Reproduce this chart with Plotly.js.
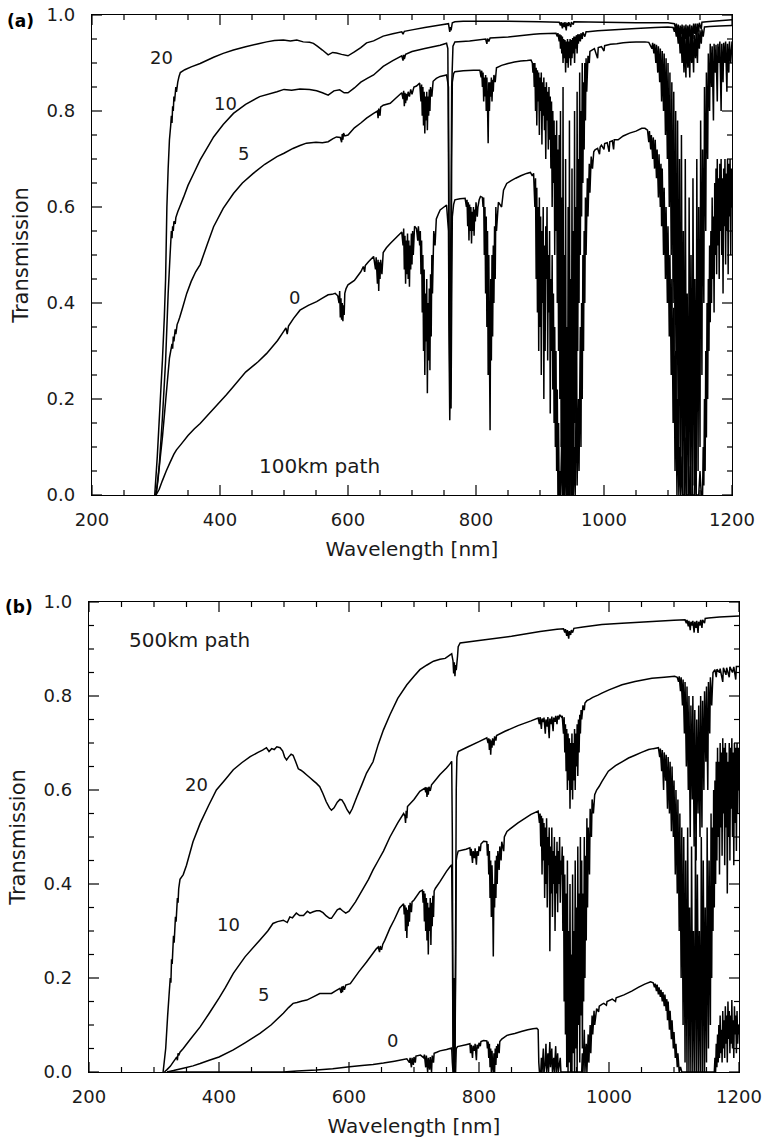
<!DOCTYPE html>
<html>
<head>
<meta charset="utf-8">
<script src="https://cdn.plot.ly/plotly-3.0.1.min.js"></script>
<style>html,body{margin:0;padding:0;background:#fff;}#chart{width:768px;height:1139px;}</style>
</head>
<body>
<div id="chart"></div>
<script>
// ---- Data: [wavelength nm, transmission] pairs ----
// Panel (a): 100 km path, tangent heights 0, 5, 10, 20 km
const a_0km = [300,0, 305,0.012, 310,0.03, 316,0.05, 322,0.068, 328,0.085, 332,0.094, 340,0.107, 350,0.124, 360,0.138, 369,0.149, 380,0.165, 395,0.187, 410,0.209, 421,0.226, 440,0.256, 460,0.278, 473,0.295, 490,0.322, 500,0.342, 503,0.348, 505,0.335, 507,0.352, 515,0.368, 525,0.385, 538,0.395, 551,0.403, 560,0.41, 569,0.417, 575,0.418, 580,0.42, 584,0.415, 586,0.40, 587,0.425, 588,0.37, 589,0.41, 590,0.365, 591,0.40, 592,0.362, 593,0.395, 594,0.375, 595,0.42, 597,0.43, 600,0.438, 610,0.447, 620,0.465, 624,0.476, 626,0.465, 627,0.478, 632,0.486, 640,0.497, 643,0.47, 644,0.495, 646,0.44, 647,0.49, 648,0.425, 649,0.485, 650,0.45, 651,0.49, 653,0.46, 655,0.505, 660,0.515, 666,0.524, 675,0.536, 684,0.548, 686,0.52, 687,0.555, 688,0.47, 689,0.54, 690,0.44, 691,0.53, 692,0.46, 693,0.545, 694,0.45, 695,0.53, 696,0.434, 697,0.52, 698,0.47, 699,0.545, 700,0.48, 701,0.55, 702,0.5, 704,0.56, 707,0.555, 709,0.53, 710,0.56, 712,0.52, 713,0.55, 714,0.46, 715,0.53, 716,0.38, 717,0.5, 718,0.3, 719,0.47, 720,0.25, 721,0.42, 722,0.32, 723,0.45, 724,0.212, 725,0.4, 726,0.28, 727,0.43, 728,0.26, 729,0.46, 730,0.33, 731,0.5, 732,0.42, 734,0.55, 736,0.52, 738,0.575, 741,0.585, 744,0.594, 750,0.6, 754,0.604, 757,0.55, 758,0.3, 759,0.156, 760,0.25, 761,0.18, 762,0.4, 763,0.58, 765,0.605, 767,0.615, 775,0.617, 783,0.618, 785,0.6, 786,0.615, 787,0.56, 788,0.61, 789,0.53, 790,0.605, 791,0.55, 792,0.6, 793,0.524, 794,0.59, 795,0.55, 796,0.6, 797,0.54, 798,0.595, 799,0.57, 800,0.61, 802,0.58, 803,0.6, 805,0.615, 807,0.622, 810,0.62, 811,0.6, 812,0.62, 813,0.5, 814,0.6, 815,0.42, 816,0.58, 817,0.35, 818,0.55, 819,0.25, 820,0.5, 821,0.3, 822,0.135, 823,0.45, 824,0.28, 825,0.5, 826,0.33, 827,0.52, 828,0.4, 829,0.56, 830,0.45, 831,0.6, 832,0.55, 835,0.61, 840,0.6, 843,0.635, 848,0.649, 855,0.655, 862,0.66, 870,0.665, 879,0.67, 885,0.672, 888,0.665, 890,0.67, 892,0.6, 893,0.66, 894,0.45, 895,0.64, 896,0.38, 897,0.6, 898,0.3, 899,0.62, 900,0.35, 901,0.58, 902,0.25, 903,0.55, 904,0.4, 905,0.6, 906,0.2, 907,0.52, 908,0.3, 909,0.56, 910,0.45, 911,0.6, 912,0.28, 913,0.5, 914,0.38, 915,0.55, 916,0.17, 917,0.45, 918,0.3, 919,0.5, 920,0.22, 921,0.42, 922,0.15, 923,0.35, 924,0.1, 925,0.3, 926,0.05, 927,0.22, 928,0, 929,0.15, 930,0, 931,0.05, 932,0, 934,0.12, 935,0, 937,0.3, 938,0, 940,0.08, 941,0, 943,0.2, 944,0, 946,0, 948,0.15, 949,0, 951,0.25, 952,0, 954,0.1, 955,0, 957,0.3, 958,0.02, 960,0.2, 961,0.05, 963,0.35, 964,0.1, 965,0.4, 966,0.2, 967,0.5, 968,0.3, 969,0.55, 970,0.4, 971,0.62, 972,0.5, 974,0.66, 975,0.58, 977,0.69, 978,0.63, 980,0.705, 982,0.68, 984,0.715, 986,0.719, 990,0.722, 993,0.71, 994,0.725, 996,0.729, 1000,0.72, 1001,0.732, 1005,0.734, 1008,0.715, 1009,0.736, 1013,0.738, 1015,0.72, 1016,0.74, 1022,0.74, 1030,0.748, 1040,0.754, 1050,0.758, 1059,0.764, 1064,0.764, 1068,0.76, 1070,0.735, 1071,0.758, 1073,0.72, 1074,0.75, 1076,0.7, 1077,0.745, 1079,0.68, 1080,0.74, 1082,0.66, 1083,0.72, 1085,0.62, 1086,0.71, 1088,0.6, 1089,0.69, 1090,0.56, 1091,0.68, 1093,0.5, 1094,0.64, 1096,0.45, 1097,0.6, 1099,0.4, 1100,0.56, 1102,0.33, 1103,0.5, 1105,0.25, 1106,0.45, 1108,0.15, 1109,0.39, 1111,0.05, 1112,0.3, 1114,0, 1115,0.2, 1117,0, 1118,0.1, 1120,0, 1122,0.08, 1123,0, 1126,0, 1128,0.12, 1129,0, 1133,0, 1135,0.06, 1136,0, 1141,0, 1143,0.1, 1144,0, 1148,0, 1150,0.05, 1152,0, 1154,0, 1155,0.1, 1156,0.02, 1157,0.2, 1158,0.05, 1159,0.3, 1160,0.12, 1161,0.4, 1162,0.2, 1163,0.45, 1164,0.3, 1165,0.52, 1166,0.36, 1167,0.55, 1168,0.4, 1169,0.62, 1170,0.45, 1171,0.58, 1172,0.38, 1173,0.65, 1174,0.5, 1175,0.68, 1176,0.46, 1177,0.7, 1178,0.52, 1179,0.66, 1180,0.45, 1181,0.69, 1182,0.55, 1183,0.7, 1184,0.5, 1185,0.66, 1186,0.42, 1187,0.68, 1188,0.56, 1189,0.7, 1190,0.48, 1191,0.67, 1192,0.55, 1193,0.7, 1194,0.46, 1195,0.69, 1196,0.58, 1197,0.7, 1198,0.5, 1199,0.68, 1200,0.6];

const a_5km = [300,0, 303,0.03, 306,0.07, 310,0.12, 314,0.18, 318,0.24, 321,0.285, 323,0.3, 325,0.315, 326,0.305, 327,0.33, 328,0.32, 330,0.345, 331,0.335, 333,0.355, 335,0.362, 337,0.37, 342,0.392, 348,0.42, 355,0.445, 362,0.465, 369,0.48, 380,0.522, 390,0.559, 405,0.597, 421,0.628, 435,0.65, 452,0.67, 470,0.689, 489,0.705, 500,0.712, 514,0.722, 525,0.728, 535,0.733, 550,0.735, 560,0.734, 569,0.736, 576,0.742, 582,0.746, 588,0.745, 590,0.735, 591,0.752, 592,0.74, 593,0.754, 595,0.748, 600,0.75, 610,0.765, 620,0.775, 629,0.785, 640,0.795, 646,0.8, 647,0.785, 648,0.805, 650,0.79, 651,0.808, 655,0.812, 666,0.816, 675,0.827, 684,0.838, 686,0.825, 687,0.842, 688,0.81, 689,0.838, 690,0.816, 691,0.836, 692,0.822, 694,0.84, 696,0.83, 698,0.845, 700,0.835, 703,0.85, 707,0.852, 712,0.858, 714,0.82, 715,0.855, 716,0.79, 717,0.85, 718,0.77, 719,0.84, 720,0.753, 721,0.83, 722,0.78, 723,0.84, 724,0.76, 725,0.83, 726,0.79, 727,0.845, 728,0.8, 729,0.85, 731,0.83, 733,0.862, 738,0.868, 744,0.872, 754,0.875, 757,0.85, 758,0.5, 759,0.25, 760,0.2, 761,0.35, 762,0.7, 763,0.86, 765,0.878, 767,0.882, 780,0.884, 796,0.885, 806,0.885, 808,0.87, 809,0.884, 810,0.85, 811,0.88, 812,0.82, 813,0.87, 814,0.83, 815,0.875, 816,0.8, 817,0.87, 818,0.81, 819,0.733, 820,0.86, 821,0.8, 822,0.86, 823,0.83, 824,0.87, 825,0.82, 826,0.865, 827,0.84, 828,0.875, 830,0.86, 832,0.89, 840,0.895, 850,0.899, 860,0.902, 870,0.904, 880,0.905, 886,0.906, 888,0.9, 889,0.88, 890,0.9, 891,0.85, 892,0.9, 893,0.8, 894,0.89, 895,0.77, 896,0.885, 897,0.82, 898,0.88, 899,0.75, 900,0.87, 901,0.8, 902,0.88, 903,0.73, 904,0.86, 905,0.79, 906,0.87, 907,0.76, 908,0.85, 909,0.7, 910,0.86, 911,0.78, 912,0.84, 913,0.72, 914,0.85, 915,0.74, 916,0.83, 917,0.68, 918,0.82, 919,0.6, 920,0.8, 921,0.65, 922,0.78, 923,0.5, 924,0.75, 925,0.55, 926,0.78, 927,0.4, 928,0.72, 929,0.3, 930,0.75, 931,0.2, 932,0.8, 933,0.1, 934,0.62, 935,0.02, 936,0.85, 937,0, 938,0.5, 939,0.05, 940,0.7, 941,0, 942,0.35, 943,0, 944,0.6, 945,0.02, 946,0.78, 947,0, 948,0.45, 949,0.05, 950,0.68, 951,0, 952,0.55, 953,0.08, 954,0.8, 955,0.15, 956,0.6, 957,0.2, 958,0.84, 959,0.3, 960,0.7, 961,0.4, 962,0.88, 963,0.5, 964,0.8, 965,0.58, 966,0.9, 967,0.65, 968,0.86, 969,0.72, 970,0.9, 971,0.78, 972,0.91, 973,0.84, 975,0.915, 977,0.9, 978,0.924, 985,0.93, 990,0.91, 991,0.932, 996,0.934, 1000,0.925, 1001,0.936, 1010,0.939, 1020,0.94, 1030,0.942, 1040,0.943, 1050,0.944, 1064,0.944, 1070,0.943, 1075,0.93, 1076,0.942, 1078,0.92, 1079,0.94, 1081,0.9, 1082,0.938, 1084,0.88, 1085,0.935, 1087,0.86, 1088,0.93, 1090,0.82, 1091,0.925, 1093,0.8, 1094,0.92, 1096,0.75, 1097,0.91, 1099,0.7, 1100,0.9, 1102,0.6, 1103,0.88, 1105,0.5, 1106,0.86, 1108,0.4, 1109,0.84, 1111,0.3, 1112,0.8, 1114,0.2, 1115,0.78, 1117,0.1, 1118,0.7, 1120,0.02, 1121,0.75, 1123,0, 1124,0.55, 1126,0, 1127,0.7, 1129,0, 1130,0.42, 1132,0, 1133,0.62, 1135,0, 1136,0.5, 1138,0, 1139,0.66, 1141,0.02, 1142,0.45, 1144,0, 1145,0.7, 1147,0.05, 1148,0.6, 1150,0.1, 1151,0.78, 1153,0.25, 1154,0.72, 1156,0.4, 1157,0.85, 1159,0.55, 1160,0.88, 1162,0.7, 1163,0.92, 1165,0.8, 1166,0.94, 1168,0.85, 1169,0.935, 1171,0.78, 1172,0.94, 1174,0.88, 1175,0.938, 1177,0.82, 1178,0.94, 1180,0.9, 1181,0.945, 1183,0.8, 1184,0.94, 1186,0.86, 1187,0.942, 1189,0.9, 1190,0.945, 1192,0.84, 1193,0.94, 1195,0.88, 1196,0.945, 1198,0.9, 1200,0.945];

const a_10km = [300,0, 305,0.06, 310,0.16, 315,0.28, 319,0.42, 322,0.5, 324,0.55, 325,0.535, 326,0.56, 327,0.55, 328,0.57, 330,0.565, 331,0.578, 334,0.59, 337,0.6, 343,0.62, 350,0.645, 360,0.673, 369,0.698, 380,0.723, 390,0.746, 405,0.772, 421,0.795, 440,0.814, 462,0.83, 489,0.84, 500,0.845, 512,0.843, 525,0.846, 540,0.845, 551,0.842, 560,0.838, 569,0.833, 578,0.842, 587,0.844, 594,0.838, 600,0.838, 610,0.848, 620,0.86, 630,0.868, 640,0.875, 655,0.893, 670,0.905, 684,0.915, 686,0.905, 687,0.917, 688,0.908, 690,0.918, 700,0.924, 720,0.93, 744,0.937, 754,0.941, 756,0.93, 757,0.7, 758,0.4, 759,0.3, 760,0.45, 761,0.6, 762,0.85, 764,0.935, 767,0.944, 790,0.946, 815,0.95, 817,0.94, 818,0.951, 820,0.945, 822,0.952, 850,0.954, 890,0.96, 900,0.961, 925,0.962, 927,0.955, 928,0.962, 930,0.945, 931,0.96, 932,0.93, 933,0.958, 934,0.92, 935,0.955, 936,0.9, 937,0.95, 938,0.91, 939,0.948, 940,0.88, 941,0.945, 942,0.9, 943,0.95, 944,0.89, 945,0.945, 946,0.91, 947,0.95, 948,0.895, 949,0.948, 950,0.91, 951,0.952, 952,0.92, 953,0.955, 954,0.9, 955,0.955, 956,0.93, 957,0.958, 958,0.92, 959,0.96, 960,0.94, 961,0.96, 963,0.945, 964,0.962, 966,0.95, 967,0.964, 970,0.955, 972,0.965, 975,0.965, 990,0.967, 1010,0.969, 1050,0.972, 1080,0.974, 1100,0.975, 1108,0.974, 1110,0.965, 1111,0.975, 1113,0.955, 1114,0.972, 1116,0.94, 1117,0.97, 1119,0.92, 1120,0.968, 1122,0.9, 1123,0.965, 1125,0.88, 1126,0.96, 1128,0.87, 1129,0.958, 1131,0.89, 1132,0.96, 1134,0.87, 1135,0.955, 1137,0.9, 1138,0.96, 1140,0.88, 1141,0.958, 1143,0.91, 1144,0.962, 1146,0.9, 1147,0.965, 1149,0.93, 1150,0.968, 1152,0.94, 1153,0.97, 1155,0.955, 1157,0.975, 1165,0.976, 1180,0.977, 1200,0.978];

const a_20km = [298,0, 302,0.08, 306,0.18, 310,0.28, 313,0.37, 315,0.45, 317,0.6, 319,0.68, 321,0.74, 323,0.77, 324,0.79, 325,0.775, 326,0.81, 327,0.8, 328,0.83, 329,0.82, 331,0.85, 332,0.84, 334,0.86, 336,0.872, 338,0.88, 345,0.886, 355,0.892, 369,0.899, 390,0.912, 405,0.92, 421,0.927, 440,0.934, 460,0.94, 473,0.944, 485,0.947, 499,0.948, 510,0.946, 520,0.948, 530,0.944, 540,0.943, 546,0.941, 552,0.935, 560,0.927, 569,0.917, 576,0.922, 582,0.921, 590,0.918, 600,0.915, 610,0.923, 620,0.932, 629,0.942, 640,0.946, 655,0.956, 670,0.961, 684,0.965, 686,0.96, 688,0.966, 700,0.969, 720,0.974, 744,0.979, 757,0.982, 759,0.965, 760,0.975, 761,0.968, 763,0.984, 767,0.986, 780,0.987, 800,0.987, 850,0.987, 900,0.986, 930,0.985, 932,0.978, 933,0.985, 935,0.972, 936,0.984, 938,0.975, 939,0.985, 941,0.968, 942,0.984, 944,0.977, 945,0.985, 948,0.975, 949,0.985, 952,0.98, 953,0.986, 1000,0.985, 1050,0.984, 1100,0.984, 1110,0.982, 1112,0.97, 1113,0.982, 1115,0.955, 1116,0.98, 1118,0.945, 1119,0.978, 1121,0.96, 1122,0.98, 1124,0.935, 1125,0.978, 1127,0.95, 1128,0.98, 1130,0.94, 1131,0.978, 1133,0.955, 1134,0.98, 1136,0.93, 1137,0.978, 1139,0.95, 1140,0.982, 1142,0.96, 1143,0.982, 1145,0.945, 1146,0.982, 1148,0.965, 1149,0.984, 1152,0.97, 1153,0.985, 1160,0.986, 1200,0.99];

// Panel (b): 500 km path, tangent heights 0, 5, 10, 20 km
const b_0km = [320,0, 400,0, 450,0, 499,0, 520,0.002, 550,0.004, 575,0.007, 601,0.011, 620,0.014, 637,0.016, 653,0.019, 670,0.023, 689,0.028, 693,0.02, 694,0.03, 696,0.01, 697,0.03, 699,0.015, 700,0.032, 702,0.02, 703,0.034, 710,0.036, 715,0.03, 716,0.037, 718,0.01, 719,0.035, 721,0, 722,0.03, 724,0.005, 725,0.032, 727,0, 728,0.035, 730,0.02, 731,0.04, 735,0.042, 740,0.045, 750,0.048, 758,0.051, 759,0.02, 760,0, 764,0, 765,0.05, 767,0.054, 780,0.058, 786,0.06, 787,0.04, 788,0.058, 790,0.03, 791,0.056, 793,0.045, 794,0.06, 796,0.025, 797,0.058, 799,0.05, 800,0.062, 802,0.055, 803,0.065, 807,0.067, 812,0.066, 813,0.05, 814,0.065, 815,0.03, 816,0.06, 817,0.01, 818,0.05, 819,0, 820,0.045, 821,0.01, 822,0, 823,0.04, 824,0, 825,0.05, 826,0.015, 827,0.055, 828,0.03, 829,0.06, 831,0.04, 832,0.065, 835,0.07, 843,0.078, 855,0.082, 865,0.086, 875,0.09, 883,0.092, 889,0.093, 891,0.09, 892,0.02, 893,0, 895,0, 896,0.03, 897,0, 899,0.05, 900,0, 902,0.02, 903,0.06, 904,0, 906,0.04, 907,0, 909,0.064, 910,0.01, 912,0.05, 913,0, 915,0.03, 916,0, 918,0.055, 919,0, 921,0.04, 922,0, 925,0.03, 926,0, 928,0, 958,0, 959,0.04, 960,0, 962,0.09, 963,0, 965,0.06, 966,0, 968,0.08, 969,0.02, 971,0.1, 972,0.04, 974,0.12, 975,0.08, 977,0.13, 978,0.1, 981,0.135, 984,0.128, 985,0.14, 989,0.144, 992,0.146, 996,0.142, 997,0.15, 1005,0.155, 1010,0.15, 1011,0.158, 1023,0.164, 1035,0.172, 1045,0.18, 1055,0.187, 1064,0.192, 1068,0.19, 1070,0.18, 1071,0.188, 1073,0.172, 1074,0.186, 1076,0.165, 1077,0.18, 1079,0.16, 1080,0.175, 1082,0.15, 1083,0.17, 1085,0.14, 1086,0.165, 1088,0.13, 1089,0.155, 1090,0.11, 1091,0.15, 1093,0.09, 1094,0.13, 1096,0.07, 1097,0.11, 1099,0.05, 1100,0.085, 1102,0.03, 1103,0.06, 1105,0.01, 1106,0.04, 1108,0, 1110,0.011, 1112,0, 1162,0, 1163,0.03, 1164,0, 1165,0.06, 1166,0.01, 1167,0.08, 1168,0.02, 1169,0.1, 1170,0.03, 1171,0.12, 1172,0.04, 1173,0.09, 1174,0.02, 1175,0.13, 1176,0.05, 1177,0.11, 1178,0.03, 1179,0.14, 1180,0.06, 1181,0.12, 1182,0.02, 1183,0.15, 1184,0.07, 1185,0.13, 1186,0.04, 1187,0.12, 1188,0.06, 1189,0.153, 1190,0.05, 1191,0.11, 1192,0.03, 1193,0.14, 1194,0.08, 1195,0.12, 1196,0.04, 1197,0.13, 1198,0.06, 1199,0.1, 1200,0.08];

const b_5km = [320,0, 330,0.003, 345,0.008, 360,0.013, 371,0.018, 385,0.025, 400,0.032, 422,0.047, 440,0.062, 463,0.082, 480,0.1, 499,0.125, 507,0.137, 514,0.146, 520,0.148, 528,0.151, 535,0.153, 545,0.16, 555,0.167, 565,0.167, 573,0.167, 580,0.173, 586,0.178, 588,0.168, 589,0.182, 590,0.17, 591,0.183, 593,0.175, 595,0.185, 602,0.188, 615,0.213, 627,0.234, 642,0.262, 645,0.266, 647,0.255, 648,0.268, 650,0.26, 652,0.272, 655,0.28, 663,0.306, 670,0.325, 678,0.349, 684,0.358, 685,0.335, 686,0.355, 687,0.3, 688,0.35, 689,0.285, 690,0.345, 691,0.31, 692,0.355, 693,0.32, 694,0.36, 696,0.34, 697,0.362, 700,0.366, 709,0.384, 713,0.387, 714,0.36, 715,0.385, 716,0.32, 717,0.38, 718,0.3, 719,0.37, 720,0.28, 721,0.36, 722,0.25, 723,0.35, 724,0.3, 725,0.37, 726,0.27, 727,0.36, 728,0.31, 729,0.375, 730,0.33, 731,0.385, 733,0.391, 740,0.405, 750,0.427, 755,0.436, 758,0.441, 759,0.3, 760,0.05, 761,0, 762,0, 763,0.03, 764,0.2, 765,0.45, 766,0.46, 768,0.47, 780,0.474, 786,0.477, 787,0.46, 788,0.475, 790,0.445, 791,0.47, 793,0.455, 794,0.476, 796,0.441, 797,0.47, 799,0.46, 800,0.48, 802,0.47, 803,0.485, 807,0.491, 812,0.49, 813,0.46, 814,0.485, 815,0.42, 816,0.47, 817,0.37, 818,0.45, 819,0.33, 820,0.44, 821,0.38, 822,0.246, 823,0.4, 824,0.35, 825,0.45, 826,0.37, 827,0.46, 828,0.4, 829,0.47, 831,0.43, 832,0.48, 834,0.45, 835,0.49, 838,0.47, 839,0.5, 843,0.512, 860,0.53, 880,0.548, 891,0.555, 893,0.53, 894,0.55, 895,0.48, 896,0.545, 897,0.42, 898,0.54, 899,0.45, 900,0.53, 901,0.37, 902,0.52, 903,0.4, 904,0.54, 905,0.35, 906,0.5, 907,0.44, 908,0.52, 909,0.257, 910,0.48, 911,0.38, 912,0.52, 913,0.33, 914,0.47, 915,0.4, 916,0.5, 917,0.3, 918,0.46, 919,0.38, 920,0.49, 921,0.34, 922,0.47, 923,0.4, 924,0.5, 925,0.36, 926,0.45, 927,0.42, 928,0.48, 929,0.3, 930,0.46, 931,0.15, 932,0.42, 933,0.08, 934,0.38, 935,0.01, 936,0.45, 937,0, 938,0.3, 939,0.02, 940,0.4, 941,0, 942,0.25, 943,0, 944,0.42, 945,0.04, 946,0.3, 947,0, 948,0.45, 949,0.05, 950,0.35, 951,0, 952,0.48, 953,0.1, 954,0.38, 955,0.02, 956,0.5, 957,0.12, 958,0.45, 959,0.05, 960,0.38, 961,0.15, 962,0.5, 963,0.2, 964,0.46, 965,0.28, 966,0.54, 967,0.35, 968,0.52, 970,0.42, 971,0.56, 973,0.5, 974,0.58, 976,0.55, 978,0.59, 981,0.6, 985,0.608, 989,0.618, 999,0.64, 1010,0.652, 1020,0.66, 1030,0.668, 1040,0.674, 1050,0.68, 1061,0.686, 1068,0.688, 1076,0.69, 1078,0.67, 1079,0.688, 1081,0.64, 1082,0.685, 1084,0.6, 1085,0.68, 1087,0.62, 1088,0.675, 1090,0.56, 1091,0.67, 1093,0.55, 1094,0.66, 1096,0.512, 1097,0.65, 1099,0.5, 1100,0.62, 1102,0.42, 1103,0.6, 1105,0.38, 1106,0.58, 1108,0.3, 1109,0.55, 1111,0.2, 1112,0.52, 1114,0.1, 1115,0.5, 1117,0.02, 1118,0.45, 1120,0, 1121,0.52, 1123,0, 1124,0.35, 1126,0, 1127,0.48, 1129,0, 1130,0.3, 1132,0, 1133,0.5, 1135,0, 1136,0.42, 1138,0, 1139,0.3, 1141,0, 1142,0.5, 1144,0, 1145,0.45, 1147,0, 1148,0.35, 1150,0.02, 1151,0.52, 1153,0.05, 1154,0.45, 1156,0.1, 1157,0.55, 1158,0.2, 1159,0.52, 1160,0.3, 1161,0.6, 1162,0.35, 1163,0.62, 1164,0.4, 1165,0.66, 1166,0.45, 1167,0.69, 1168,0.5, 1169,0.66, 1170,0.42, 1171,0.7, 1172,0.52, 1173,0.68, 1174,0.46, 1175,0.71, 1176,0.55, 1177,0.69, 1178,0.44, 1179,0.7, 1180,0.52, 1181,0.68, 1182,0.38, 1183,0.66, 1184,0.5, 1185,0.7, 1186,0.45, 1187,0.69, 1188,0.56, 1189,0.71, 1190,0.5, 1191,0.68, 1192,0.44, 1193,0.7, 1194,0.53, 1195,0.69, 1196,0.47, 1197,0.7, 1198,0.55, 1199,0.69, 1200,0.6];

const b_10km = [316,0, 320,0.005, 325,0.012, 330,0.022, 333,0.028, 335,0.032, 336,0.025, 337,0.04, 338,0.035, 340,0.042, 345,0.05, 355,0.068, 371,0.096, 385,0.125, 400,0.157, 410,0.18, 422,0.21, 440,0.245, 463,0.281, 475,0.3, 483,0.316, 490,0.32, 499,0.323, 505,0.318, 509,0.33, 513,0.328, 519,0.338, 524,0.333, 530,0.333, 536,0.342, 540,0.338, 545,0.341, 550,0.343, 555,0.343, 560,0.339, 565,0.332, 570,0.327, 573,0.327, 578,0.337, 582,0.345, 586,0.348, 590,0.343, 595,0.338, 600,0.342, 610,0.362, 620,0.386, 630,0.41, 637,0.43, 645,0.45, 653,0.47, 663,0.5, 675,0.53, 684,0.55, 686,0.545, 687,0.53, 688,0.556, 689,0.54, 690,0.565, 700,0.58, 709,0.597, 717,0.604, 718,0.595, 719,0.606, 720,0.585, 721,0.605, 722,0.59, 723,0.607, 725,0.598, 727,0.611, 730,0.616, 740,0.633, 750,0.647, 755,0.655, 758,0.661, 759,0.5, 760,0.1, 761,0.01, 762,0.2, 763,0.02, 764,0.3, 765,0.6, 766,0.67, 768,0.682, 780,0.69, 800,0.703, 812,0.711, 814,0.7, 815,0.71, 816,0.685, 817,0.708, 818,0.675, 819,0.705, 820,0.69, 821,0.71, 823,0.695, 824,0.714, 826,0.705, 827,0.716, 840,0.725, 860,0.737, 880,0.747, 891,0.753, 893,0.74, 894,0.755, 896,0.73, 897,0.752, 899,0.745, 900,0.754, 902,0.72, 903,0.75, 905,0.735, 906,0.755, 908,0.71, 909,0.752, 911,0.74, 912,0.756, 914,0.725, 915,0.754, 917,0.745, 918,0.758, 920,0.74, 921,0.758, 923,0.75, 924,0.76, 927,0.755, 928,0.758, 930,0.72, 931,0.755, 932,0.68, 933,0.74, 934,0.64, 935,0.73, 936,0.6, 937,0.72, 938,0.62, 939,0.71, 940,0.56, 941,0.7, 942,0.6, 943,0.72, 944,0.58, 945,0.7, 946,0.62, 947,0.73, 948,0.6, 949,0.72, 950,0.65, 951,0.74, 952,0.63, 953,0.75, 954,0.68, 955,0.76, 956,0.72, 957,0.77, 958,0.75, 960,0.78, 962,0.77, 963,0.785, 966,0.79, 970,0.793, 975,0.797, 983,0.802, 989,0.806, 1000,0.813, 1020,0.824, 1040,0.831, 1066,0.838, 1085,0.84, 1101,0.842, 1105,0.84, 1107,0.83, 1108,0.842, 1110,0.81, 1111,0.84, 1113,0.78, 1114,0.835, 1116,0.72, 1117,0.83, 1119,0.65, 1120,0.82, 1122,0.6, 1123,0.8, 1125,0.5, 1126,0.78, 1128,0.58, 1129,0.8, 1131,0.48, 1132,0.77, 1134,0.45, 1135,0.75, 1137,0.55, 1138,0.78, 1140,0.5, 1141,0.8, 1143,0.52, 1144,0.79, 1146,0.6, 1147,0.81, 1149,0.66, 1150,0.82, 1152,0.6, 1153,0.83, 1155,0.72, 1156,0.84, 1158,0.78, 1160,0.85, 1163,0.856, 1165,0.84, 1166,0.857, 1170,0.85, 1171,0.858, 1175,0.83, 1176,0.86, 1180,0.845, 1181,0.86, 1185,0.84, 1186,0.862, 1190,0.85, 1192,0.862, 1195,0.835, 1196,0.863, 1200,0.863];

const b_20km = [314,0, 318,0.05, 321,0.12, 323,0.16, 325,0.2, 326,0.19, 327,0.24, 328,0.23, 330,0.29, 331,0.275, 333,0.33, 334,0.32, 336,0.37, 337,0.36, 338,0.39, 340,0.41, 345,0.42, 350,0.44, 360,0.49, 371,0.529, 384,0.567, 396,0.6, 410,0.623, 422,0.643, 435,0.658, 448,0.671, 460,0.68, 467,0.685, 473,0.69, 477,0.682, 481,0.688, 485,0.686, 489,0.692, 494,0.69, 498,0.683, 501,0.67, 504,0.664, 507,0.67, 511,0.676, 514,0.674, 518,0.66, 522,0.645, 526,0.642, 530,0.638, 535,0.632, 540,0.626, 545,0.62, 550,0.614, 555,0.607, 560,0.592, 565,0.575, 570,0.562, 573,0.557, 577,0.562, 582,0.574, 586,0.58, 589,0.579, 593,0.57, 597,0.558, 601,0.55, 605,0.56, 612,0.585, 620,0.612, 627,0.636, 637,0.66, 645,0.697, 653,0.728, 663,0.76, 675,0.795, 689,0.824, 700,0.842, 709,0.856, 720,0.866, 730,0.874, 740,0.878, 748,0.88, 755,0.887, 758,0.89, 760,0.875, 761,0.848, 762,0.872, 763,0.842, 764,0.866, 765,0.855, 767,0.885, 768,0.905, 771,0.913, 800,0.918, 850,0.927, 894,0.937, 920,0.942, 930,0.943, 932,0.935, 933,0.942, 935,0.928, 936,0.94, 938,0.922, 939,0.938, 941,0.93, 942,0.94, 944,0.935, 946,0.944, 960,0.947, 989,0.952, 1020,0.955, 1060,0.958, 1100,0.961, 1117,0.962, 1119,0.955, 1120,0.962, 1122,0.948, 1123,0.96, 1125,0.94, 1126,0.958, 1128,0.95, 1129,0.96, 1131,0.935, 1132,0.958, 1134,0.945, 1135,0.96, 1137,0.934, 1138,0.958, 1140,0.95, 1141,0.962, 1143,0.945, 1144,0.962, 1147,0.955, 1148,0.965, 1153,0.966, 1170,0.968, 1200,0.97];

// Curve labels (tangent height, km) and their anchor points [wavelength, transmission]
const a_labels = ['20', '10', '5', '0'];
const a_label_pos = [[309, 0.912], [409, 0.815], [436, 0.712], [516, 0.412]];
const b_labels = ['20', '10', '5', '0'];
const b_label_pos = [[365, 0.611], [414, 0.313], [468, 0.164], [667, 0.067]];
const a_path = {text: '100km path', at: [556, 0.06]};
const b_path = {text: '500km path', at: [355, 0.919]};

// Axis tick values
const xMajor = [200, 400, 600, 800, 1000, 1200];
const yMajor = [0, 0.2, 0.4, 0.6, 0.8, 1.0];
const xMinorStep = 50, yMinorStep = 0.05;

// ---- build traces ----
function split(p) { const x = [], y = []; for (let i = 0; i < p.length; i += 2) { x.push(p[i]); y.push(p[i + 1]); } return {x, y}; }
function tr(p, xa, ya) {
  const s = split(p);
  return {type: 'scatter', mode: 'lines', x: s.x, y: s.y, xaxis: xa, yaxis: ya,
          line: {color: '#000', width: 1.5, simplify: false}, hoverinfo: 'skip', showlegend: false};
}
const traces = [
  tr(a_0km, 'x', 'y'), tr(a_5km, 'x', 'y'), tr(a_10km, 'x', 'y'), tr(a_20km, 'x', 'y'),
  tr(b_0km, 'x2', 'y2'), tr(b_5km, 'x2', 'y2'), tr(b_10km, 'x2', 'y2'), tr(b_20km, 'x2', 'y2')
];

const FONT = 'DejaVu Sans, Liberation Sans, sans-serif';
const W = 768, H = 1139;
function xax(l, r, anchor) {
  return {domain: [l / W, r / W], anchor: anchor, range: [200, 1200], tickmode: 'array', tickvals: xMajor,
    ticks: '', showline: true, linecolor: '#000', linewidth: 1.3, mirror: true, showgrid: false, zeroline: false,
    tickfont: {family: FONT, size: 18, color: '#1a1a1a'}, ticklabelstandoff: 8,
    title: {text: 'Wavelength [nm]', font: {family: FONT, size: 20, color: '#1a1a1a'}, standoff: 13}};
}
function yax(top, bot, anchor) {
  return {domain: [(H - bot) / H, (H - top) / H], anchor: anchor, range: [0, 1.0], tickmode: 'array', tickvals: yMajor,
    tickformat: '.1f', ticks: '', showline: true, linecolor: '#000', linewidth: 1.3, mirror: true, showgrid: false, zeroline: false,
    tickfont: {family: FONT, size: 18, color: '#1a1a1a'}, ticklabelstandoff: 12,
    title: {text: 'Transmission', font: {family: FONT, size: 21, color: '#1a1a1a'}, standoff: 12}};
}

// Inside tick marks on all four sides, drawn as shapes at the axes' own tick values
const shapes = [];
function addTicks(xa, ya, plotW, plotH) {
  const majLen = 10, minLen = 5;
  const tick = (v, len, isX) => {
    const st = {color: '#000', width: 1.2};
    if (isX) {
      const f = len / plotH;
      shapes.push({type: 'line', xref: xa, yref: ya + ' domain', x0: v, x1: v, y0: 0, y1: f, line: st, layer: 'above'});
      shapes.push({type: 'line', xref: xa, yref: ya + ' domain', x0: v, x1: v, y0: 1, y1: 1 - f, line: st, layer: 'above'});
    } else {
      const f = len / plotW;
      shapes.push({type: 'line', xref: xa + ' domain', yref: ya, x0: 0, x1: f, y0: v, y1: v, line: st, layer: 'above'});
      shapes.push({type: 'line', xref: xa + ' domain', yref: ya, x0: 1, x1: 1 - f, y0: v, y1: v, line: st, layer: 'above'});
    }
  };
  for (let i = 0; i < xMajor.length - 1; i++) {
    tick(xMajor[i], majLen, true);
    for (let v = xMajor[i] + xMinorStep; v < xMajor[i + 1] - 1e-6; v += xMinorStep) tick(v, minLen, true);
  }
  tick(xMajor[xMajor.length - 1], majLen, true);
  for (let i = 0; i < yMajor.length - 1; i++) {
    tick(yMajor[i], majLen, false);
    for (let k = 1; k * yMinorStep < (yMajor[i + 1] - yMajor[i]) - 1e-9; k++) tick(yMajor[i] + k * yMinorStep, minLen, false);
  }
  tick(yMajor[yMajor.length - 1], majLen, false);
}
addTicks('x', 'y', 640, 480);
addTicks('x2', 'y2', 650, 470);

const annotations = [];
a_labels.forEach((t, i) => annotations.push({xref: 'x', yref: 'y', x: a_label_pos[i][0], y: a_label_pos[i][1], text: t, showarrow: false, xanchor: 'center', yanchor: 'middle', font: {family: FONT, size: 18, color: '#1a1a1a'}}));
b_labels.forEach((t, i) => annotations.push({xref: 'x2', yref: 'y2', x: b_label_pos[i][0], y: b_label_pos[i][1], text: t, showarrow: false, xanchor: 'center', yanchor: 'middle', font: {family: FONT, size: 18, color: '#1a1a1a'}}));
annotations.push({xref: 'x', yref: 'y', x: a_path.at[0], y: a_path.at[1], text: a_path.text, showarrow: false, xanchor: 'center', yanchor: 'middle', font: {family: FONT, size: 20, color: '#1a1a1a'}});
annotations.push({xref: 'x2', yref: 'y2', x: b_path.at[0], y: b_path.at[1], text: b_path.text, showarrow: false, xanchor: 'center', yanchor: 'middle', font: {family: FONT, size: 20, color: '#1a1a1a'}});
annotations.push({xref: 'paper', yref: 'paper', x: 20 / W, y: 1 - 21 / H, xanchor: 'center', yanchor: 'middle', text: '<b>(a)</b>', showarrow: false, font: {family: FONT, size: 17, color: '#000'}});
annotations.push({xref: 'paper', yref: 'paper', x: 19 / W, y: 1 - 607 / H, xanchor: 'center', yanchor: 'middle', text: '<b>(b)</b>', showarrow: false, font: {family: FONT, size: 17, color: '#000'}});

const layout = {
  width: W, height: H, autosize: false,
  margin: {l: 0, r: 0, t: 0, b: 0, pad: 0},
  paper_bgcolor: '#fff', plot_bgcolor: '#fff', showlegend: false,
  xaxis: xax(92, 732, 'y'), yaxis: yax(15, 495, 'x'),
  xaxis2: xax(89, 739, 'y2'), yaxis2: yax(602, 1072, 'x2'),
  shapes: shapes,
  annotations: annotations
};

Plotly.newPlot('chart', traces, layout, {staticPlot: true, displayModeBar: false});
</script>
</body>
</html>
